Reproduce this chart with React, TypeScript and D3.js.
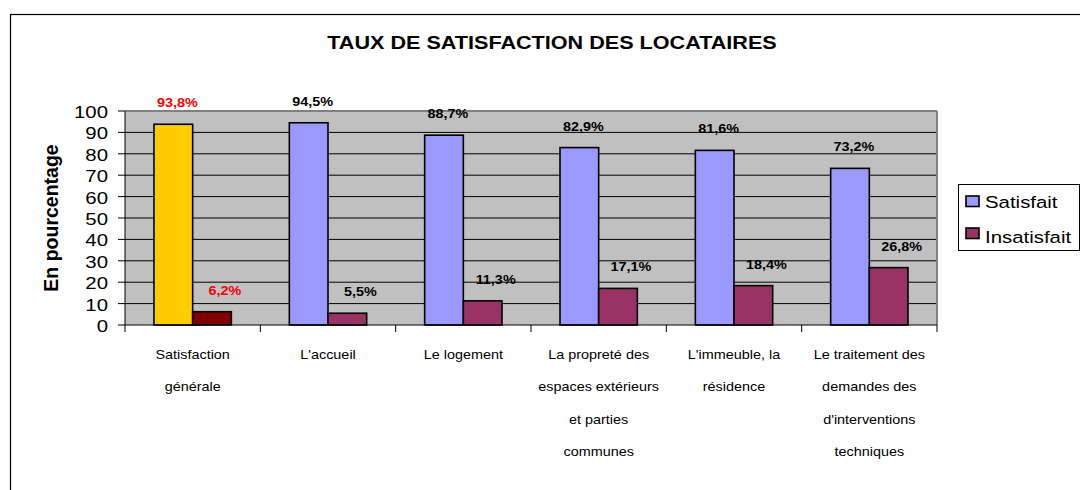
import React from "react";
import * as d3 from "d3";

const title = "TAUX DE SATISFACTION DES LOCATAIRES";
const categories = [
  ["Satisfaction", "générale"],
  ["L'accueil"],
  ["Le logement"],
  ["La propreté des", "espaces extérieurs", "et parties", "communes"],
  ["L'immeuble, la", "résidence"],
  ["Le traitement des", "demandes des", "d'interventions", "techniques"],
];
const satisfait = [93.8, 94.5, 88.7, 82.9, 81.6, 73.2];
const insatisfait = [6.2, 5.5, 11.3, 17.1, 18.4, 26.8];
const yTicks = [0, 10, 20, 30, 40, 50, 60, 70, 80, 90, 100];
const seriesNames = ["Satisfait", "Insatisfait"];
const seriesColors = ["#9999FF", "#993366"];
const highlightColors = ["#FFCC00", "#800000"];

const fmt = (v: number) => v.toFixed(1).replace(".", ",") + "%";
const font = "Arial, 'Liberation Sans', sans-serif";
const SX = 1.2;

function SText(props: { x: number; y: number; anchor?: string; size: number; bold?: boolean; fill?: string; children: React.ReactNode }) {
  const { x, y, anchor = "start", size, bold, fill = "#000", children } = props;
  return (
    <text transform={`translate(${x},${y}) scale(${SX},1)`} textAnchor={anchor as any} fontFamily={font}
      fontSize={size} fontWeight={bold ? "bold" : "normal"} fill={fill}>
      {children}
    </text>
  );
}

export default function App() {
  const W = 1080, H = 490;
  const left = 125, right = 937, top = 111, bottom = 325;

  const x = d3.scaleBand<number>().domain(d3.range(categories.length)).range([left, right]).paddingInner(0).paddingOuter(0);
  const y = d3.scaleLinear().domain([0, 100]).range([bottom, top]);
  const bw = x.bandwidth() / 3.5;
  const gap = bw * 0.75;

  const series = [satisfait, insatisfait];

  return (
    <svg width={W} height={H} style={{ position: "absolute", left: 0, top: 0, background: "#fff" }}>
      <rect x={10.5} y={14.5} width={1100} height={500} fill="#fff" stroke="#000" strokeWidth={1.2} />
      <SText x={552} y={49} anchor="middle" size={18} bold>{title}</SText>

      <rect x={left} y={top} width={right - left} height={bottom - top} fill="#C0C0C0" />
      {yTicks.filter((t) => t > 0 && t < 100).map((t) => (
        <line key={t} x1={left} x2={right} y1={y(t)} y2={y(t)} stroke="#000" strokeWidth={1} />
      ))}
      <line x1={left} x2={right} y1={top} y2={top} stroke="#808080" strokeWidth={2} />
      <line x1={right} x2={right} y1={top} y2={bottom} stroke="#808080" strokeWidth={2} />

      {series.map((vals, s) =>
        vals.map((v, i) => {
          const bx = (x(i) as number) + gap + s * bw;
          const fill = i === 0 ? highlightColors[s] : seriesColors[s];
          return (
            <rect key={`${s}-${i}`} x={bx} y={y(v)} width={bw} height={bottom - y(v)} fill={fill} stroke="#000" strokeWidth={1.6} />
          );
        })
      )}

      {series.map((vals, s) =>
        vals.map((v, i) => {
          const bx = (x(i) as number) + gap + s * bw + bw / 2;
          return (
            <SText key={`l${s}-${i}`} x={bx + (s === 0 ? 4 : 13)} y={y(v) - 17} anchor="middle"
              size={12} bold fill={i === 0 ? "#FF0000" : "#000"}>
              {fmt(v)}
            </SText>
          );
        })
      )}

      {/* axes */}
      <line x1={left} x2={left} y1={top} y2={bottom} stroke="#000" strokeWidth={1} />
      <line x1={left} x2={right} y1={bottom} y2={bottom} stroke="#000" strokeWidth={1.2} />
      {yTicks.map((t) => (
        <g key={t}>
          <line x1={left - 7} x2={left} y1={y(t)} y2={y(t)} stroke="#000" />
          <SText x={108} y={y(t) + 7} anchor="end" size={17}>{t}</SText>
        </g>
      ))}
      {d3.range(categories.length + 1).map((i) => {
        const tx = i < categories.length ? (x(i) as number) : right;
        return <line key={i} x1={tx} x2={tx} y1={bottom} y2={bottom + 7} stroke="#000" />;
      })}
      {categories.map((lines, i) =>
        lines.map((l, k) => (
          <SText key={`${i}-${k}`} x={(x(i) as number) + x.bandwidth() / 2} y={359 + k * 32.4} anchor="middle" size={12}>{l}</SText>
        ))
      )}

      <text transform={`translate(58,218) rotate(-90)`} textAnchor="middle" fontFamily={font} fontWeight="bold" fontSize={19.5}>En pourcentage</text>

      {/* legend */}
      <rect x={958.5} y={184.5} width={121} height={66} fill="#fff" stroke="#000" strokeWidth={1} />
      {seriesNames.map((n, k) => (
        <g key={n}>
          <rect x={966} y={196 + k * 32} width={13} height={10.5} fill={seriesColors[k]} stroke="#000" strokeWidth={1.6} />
          <SText x={985} y={208 + k * 34.5} size={17}>{n}</SText>
        </g>
      ))}
    </svg>
  );
}
